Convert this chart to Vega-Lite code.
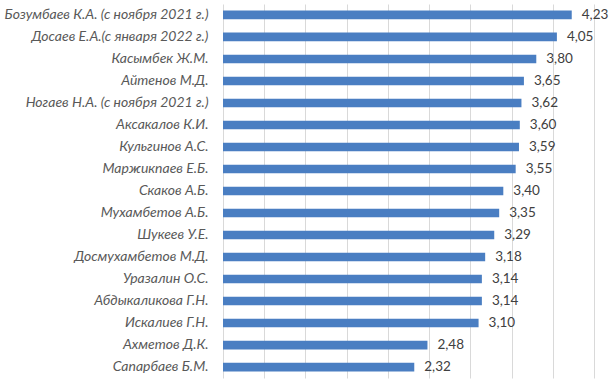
{
  "$schema": "https://vega.github.io/schema/vega-lite/v6.json",
  "width": 371,
  "height": 374,
  "autosize": "none",
  "padding": {"left": 223, "top": 4, "right": 21, "bottom": 6},
  "background": "white",
  "config": {
    "view": {"stroke": null},
    "locale": {"number": {"decimal": ",", "thousands": " ", "grouping": [3], "currency": ["", ""]}}
  },
  "data": {"values": [
    {"name": "Бозумбаев К.А. (с ноября 2021 г.)", "value": 4.23},
    {"name": "Досаев Е.А.(с января 2022 г.)", "value": 4.05},
    {"name": "Касымбек Ж.М.", "value": 3.80},
    {"name": "Айтенов М.Д.", "value": 3.65},
    {"name": "Ногаев Н.А. (с ноября 2021 г.)", "value": 3.62},
    {"name": "Аксакалов К.И.", "value": 3.60},
    {"name": "Кульгинов А.С.", "value": 3.59},
    {"name": "Маржикпаев Е.Б.", "value": 3.55},
    {"name": "Скаков А.Б.", "value": 3.40},
    {"name": "Мухамбетов А.Б.", "value": 3.35},
    {"name": "Шукеев У.Е.", "value": 3.29},
    {"name": "Досмухамбетов М.Д.", "value": 3.18},
    {"name": "Уразалин О.С.", "value": 3.14},
    {"name": "Абдыкаликова Г.Н.", "value": 3.14},
    {"name": "Искалиев Г.Н.", "value": 3.10},
    {"name": "Ахметов Д.К.", "value": 2.48},
    {"name": "Сапарбаев Б.М.", "value": 2.32}
  ]},
  "encoding": {
    "y": {
      "field": "name", "type": "nominal", "sort": null,
      "scale": {"paddingInner": 0.61, "paddingOuter": 0.3},
      "axis": {
        "title": null, "domain": false, "ticks": false, "labelPadding": 15,
        "labelFont": "Lato", "labelFontStyle": "italic", "labelFontSize": 14,
        "labelColor": "#595959", "labelLimit": 300
      }
    },
    "x": {
      "field": "value", "type": "quantitative",
      "scale": {"domain": [0, 4.5], "nice": false},
      "axis": {
        "title": null, "labels": false, "ticks": false, "domain": false,
        "values": [0, 0.5, 1, 1.5, 2, 2.5, 3, 3.5, 4, 4.5],
        "grid": true, "gridColor": "#d9d9d9", "gridWidth": 1
      }
    }
  },
  "layer": [
    {"mark": {"type": "bar", "color": "#4A7EC2"}},
    {
      "mark": {"type": "text", "align": "left", "baseline": "middle", "dx": 10, "font": "Lato", "fontSize": 13.5, "color": "#404040"},
      "encoding": {"text": {"field": "value", "type": "quantitative", "format": ".2f"}}
    }
  ]
}
